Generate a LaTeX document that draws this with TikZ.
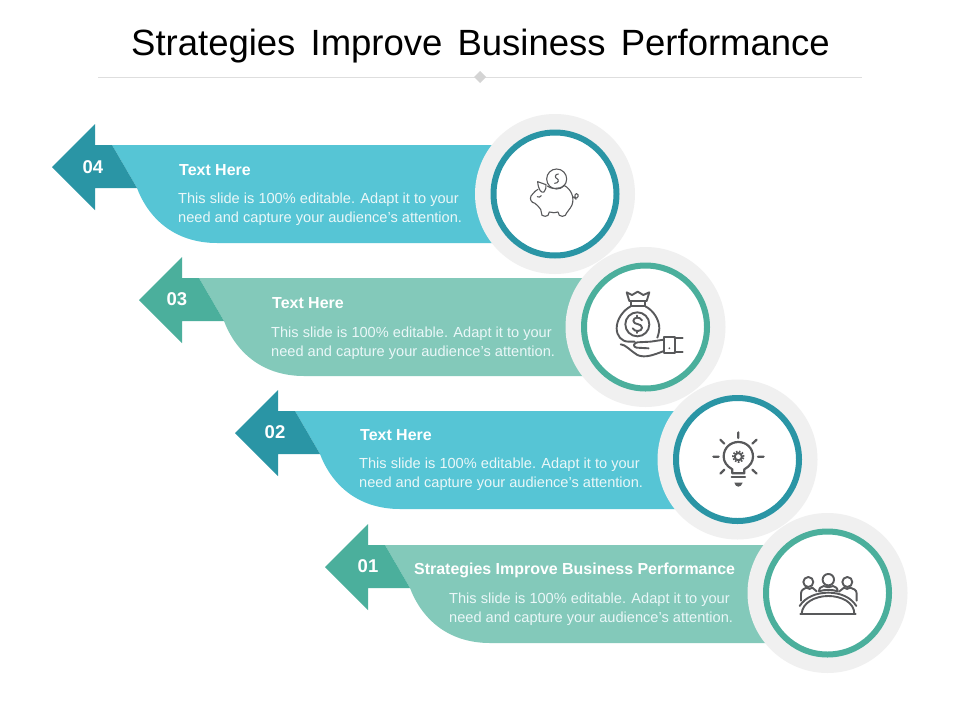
\documentclass[tikz,border=0pt]{standalone}
\usepackage{fontspec}
\setmainfont{Liberation Sans}
\definecolor{lightteal}{HTML}{56C5D5}
\definecolor{darkteal}{HTML}{2A95A5}
\definecolor{lightgreen}{HTML}{83C9BA}
\definecolor{darkgreen}{HTML}{4BAF9C}
\definecolor{halo}{HTML}{F0F0F0}
\definecolor{icongrey}{HTML}{58595B}
\definecolor{bodytext}{HTML}{EAF7F8}
\newcommand{\bannerrow}[6]{% name, tip x, tip y, right x, light, dark
  \coordinate (#1tip) at (#2,#3);
  \fill[#5] (#2+60,#3-22) -- (#4,#3-22) -- (#4,#3+76)
    -- (#2+165,#3+76) .. controls (#2+126,#3+76) and (#2+98,#3+55) .. (#2+85,#3+21) -- cycle;
  \fill[#6] (#1tip) -- (#2+43,#3-43) -- (#2+43,#3-22) -- (#2+60,#3-22)
    -- (#2+85,#3+21) -- (#2+43,#3+21) -- (#2+43,#3+43) -- cycle;
}
\newcommand{\badge}[4]{% name, x, y, ring colour
  \node[haloDisc] (#1halo) at (#2,#3) {};
  \node[ringDisc, draw=#4] (#1ring) at (#2,#3) {};
}
\tikzset{
  haloDisc/.style={circle, fill=halo, minimum size=160pt, inner sep=0pt, outer sep=0pt},
  ringDisc/.style={circle, fill=white, line width=6pt, minimum size=123pt, inner sep=0pt, outer sep=0pt},
  heading/.style={anchor=base west, inner sep=0pt, text=white, font=\fontsize{15.95}{18}\selectfont\bfseries},
  bodycopy/.style={anchor=base west, inner sep=0pt, text=bodytext, align=left, font=\fontsize{14.6}{19}\selectfont},
  numeral/.style={inner sep=0pt, text=white, font=\fontsize{18.5}{20}\selectfont\bfseries},
  icon/.style={draw=icongrey, line width=#1, line cap=round, line join=round},
  icon/.default=1.3pt,
}
\newcommand{\bodylines}{This slide is 100\% editable. Adapt it to your\\need and capture your audience's attention.}
\begin{document}
\begin{tikzpicture}[x=1pt,y=-1pt]
\useasboundingbox (0,0) rectangle (960,720);
\fill[white] (0,0) rectangle (960,720);

% title
\node[inner sep=0pt, font=\fontsize{36.5}{40}\selectfont] (title) at (480.5,46.5) {Strategies\hspace{5pt} Improve\hspace{5pt} Business\hspace{5pt} Performance};
\coordinate (ruleL) at (98,77);
\coordinate (ruleR) at (862,77);
\draw[color=black!13, line width=0.8pt] (ruleL) -- (ruleR);
\fill[black!17] (480,71) -- (486,77) -- (480,83) -- (474,77) -- cycle;

% banners
\bannerrow{d}{52}{167}{555}{lightteal}{darkteal}
\bannerrow{c}{139}{300}{645}{lightgreen}{darkgreen}
\bannerrow{b}{235}{433}{737}{lightteal}{darkteal}
\bannerrow{a}{325}{567}{827}{lightgreen}{darkgreen}

% discs
\badge{d}{555}{194}{darkteal}
\badge{c}{645.5}{327}{darkgreen}
\badge{b}{737.5}{459.5}{darkteal}
\badge{a}{827.5}{593}{darkgreen}

% numbers
\node[numeral] (n4) at (93,167) {04};
\node[numeral] (n3) at (177,299) {03};
\node[numeral] (n2) at (275,432) {02};
\node[numeral] (n1) at (368,566) {01};

% text
\node[heading] (h4) at (179,175) {Text Here};
\node[bodycopy] (t4) at (178,222) {\bodylines};
\node[heading] (h3) at (272,308) {Text Here};
\node[bodycopy] (t3) at (271,356) {\bodylines};
\node[heading] (h2) at (360,440) {Text Here};
\node[bodycopy] (t2) at (359,487) {\bodylines};
\node[heading] (h1) at (414,574) {Strategies Improve Business Performance};
\node[bodycopy] (t1) at (449,622) {\bodylines};

% piggy bank icon
\begin{scope}[shift={(470,110)}, x=0.3333pt, y=-0.3333pt, icon=1.1pt]
  \draw (260,207) circle (10pt);
  \draw (265,192) .. controls (254,192) and (254,204) .. (261,206) .. controls (268,208) and (266,220) .. (254,220);
  \draw (203,215) -- (228,224) .. controls (230,232) and (226,240) .. (222,246) .. controls (214,250) and (205,240) .. (203,215);
  \draw (204,238) .. controls (192,244) and (188,254) .. (183,258) .. controls (178,268) and (184,278) .. (195,280)
     .. controls (202,286) and (208,292) .. (212,298) -- (216,316) .. controls (222,320) and (230,320) .. (234,316) -- (238,306)
     .. controls (248,309) and (256,309) .. (264,306) -- (268,316) .. controls (272,320) and (282,320) .. (286,316)
     .. controls (290,306) and (300,298) .. (306,285) .. controls (314,262) and (304,238) .. (282,226);
  \draw (232,228) .. controls (238,236) and (270,240) .. (282,226);
  \draw (308,260) .. controls (316,270) and (328,262) .. (324,254) .. controls (318,246) and (310,256) .. (318,268);
  \draw (202,260) .. controls (206,263) and (211,262) .. (214,257);
\end{scope}

% money bag and hand icon
\begin{scope}[shift={(560,245)}, x=0.3333pt, y=-0.3333pt, icon=1.9pt]
  \draw (200,142) -- (216,150) -- (233,140) -- (250,150) -- (268,142) -- (260,168) -- (208,168) -- cycle;
  \draw (212,168) -- (212,184) -- (256,184) -- (256,168);
  \draw (212,184) .. controls (190,196) and (170,222) .. (170,250) .. controls (170,272) and (184,290) .. (206,290) -- (224,290);
  \draw (256,184) .. controls (280,196) and (298,224) .. (298,250) .. controls (298,258) and (296,266) .. (292,278);
  \draw (232,238) circle (12pt);
  \draw (246,226) .. controls (240,214) and (220,216) .. (220,228) .. controls (220,240) and (246,234) .. (246,248) .. controls (246,260) and (224,262) .. (218,250);
  \draw (232,212) -- (232,218) (232,258) -- (232,264);
  \draw (182,298) .. controls (196,298) and (212,318) .. (232,330) .. controls (256,340) and (280,330) .. (312,318);
  \draw (312,284) -- (272,290) -- (232,292) .. controls (220,294) and (218,306) .. (230,308) -- (266,310);
  \draw (312,276) rectangle (344,324);
  \draw (344,278) -- (368,278) (344,322) -- (368,322);
  \fill[icongrey] (328,310) circle (1pt);
\end{scope}

% light bulb icon
\begin{scope}[shift={(655,378)}, x=0.3333pt, y=-0.3333pt, icon=2.2pt]
  \draw (250,163) -- (250,180) (196,185) -- (208,197) (305,185) -- (292,197)
        (175,236) -- (191,236) (309,236) -- (326,236) (196,287) -- (208,275) (305,287) -- (292,275);
  \draw (232,286) -- (232,274) .. controls (214,264) and (206,250) .. (206,236)
     .. controls (206,210) and (226,192) .. (250,192) .. controls (274,192) and (294,210) .. (294,236)
     .. controls (294,250) and (286,264) .. (268,274) -- (268,286) -- cycle;
  \draw[line width=1.8pt, dash pattern=on 1.6pt off 1.5pt, line cap=butt] (250,236) circle (5.5pt);
  \draw[line width=2pt] (250,236) circle (3.6pt);
  \draw (230,298) -- (270,298);
  \fill[icongrey] (238,314) -- (263,314) .. controls (261,322) and (255,326) .. (250,326) .. controls (245,326) and (240,322) .. (238,314) -- cycle;
\end{scope}

% meeting icon
\begin{scope}[shift={(745,510)}, x=0.3333pt, y=-0.3333pt, icon=1.9pt]
  \draw (190,216) circle (5pt);
  \draw (250,209) circle (5.7pt);
  \draw (307,216) circle (5pt);
  \draw (168,272) -- (168,250) .. controls (168,240) and (178,235) .. (184,233) .. controls (190,238) and (198,238) .. (202,233) -- (215,244);
  \draw (222,244) .. controls (222,234) and (228,230) .. (236,228) .. controls (244,232) and (256,232) .. (264,228) .. controls (272,230) and (278,234) .. (278,244) .. controls (262,238) and (238,238) .. (222,244) -- cycle;
  \draw (335,272) -- (335,250) .. controls (335,240) and (324,235) .. (316,233) .. controls (310,238) and (302,238) .. (297,233) -- (282,245);
  \draw (166,311) -- (332,311);
  \draw (170,311) .. controls (172,278) and (210,258) .. (250,258) .. controls (290,258) and (328,278) .. (328,311);
  \draw (164,288) .. controls (180,262) and (214,248) .. (250,248) .. controls (286,248) and (318,262) .. (334,288);
\end{scope}
\end{tikzpicture}
\end{document}
